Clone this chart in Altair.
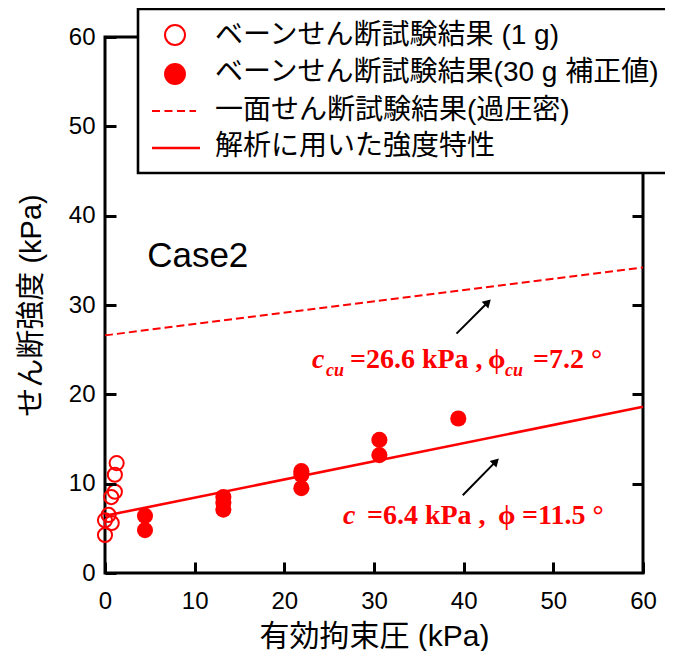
import altair as alt
import pandas as pd

# ---------------- data ----------------
open_x = [1.3, 1.1, 1.1, 0.7, 0.4, 0.0, 0.75, 0.0]
open_y = [12.3, 11.0, 9.1, 8.5, 6.5, 5.9, 5.6, 4.25]

filled_x = [4.46, 4.46, 13.2, 13.2, 13.2, 21.9, 21.9, 21.9, 30.6, 30.6, 39.4]
filled_y = [6.4, 4.8, 8.5, 7.9, 7.1, 11.4, 11.0, 9.5, 14.9, 13.2, 17.3]

dashed_x = [0, 60]
dashed_y = [26.6, 34.2]
solid_x = [0, 60]
solid_y = [6.4, 18.6]

arrow1_x = [39.2, 42.7]
arrow1_y = [26.8, 30.3]
arrow2_x = [39.9, 43.6]
arrow2_y = [8.7, 12.5]

ann1_anchor = ([23.08], [22.95])
ann2_anchor = ([26.54], [5.49])
case_anchor = ([4.7], [34.3])

tick_vals = [0, 10, 20, 30, 40, 50, 60]
right_tick_vals = [10, 20, 30, 40]   # the upper ones sit behind the legend box

legend_labels = [
    "ベーンせん断試験結果 (1 g)",
    "ベーンせん断試験結果(30 g 補正値)",
    "一面せん断試験結果(過圧密)",
    "解析に用いた強度特性",
]
x_title = "有効拘束圧 (kPa)"
y_title = "せん断強度 (kPa)"
case_label = "Case2"

# ---------------- chart ----------------
W, H = 538, 536
RED = "#ff0000"
SANS = "Liberation Sans, Arial, Noto Sans CJK JP"
SERIF = "Liberation Serif, DejaVu Serif"

xs = alt.Scale(domain=[0, 60], nice=False, zero=False)
ys = alt.Scale(domain=[0, 60], nice=False, zero=False)

# inward ticks: each axis is moved inside the frame, ticks point out to it
TL = 11
tick_kw = dict(ticks=True, tickSize=TL, tickWidth=3, tickColor="black",
               domain=False, grid=False, offset=-TL, zindex=1)

xaxis = alt.Axis(values=tick_vals, orient="bottom",
                 labelFlush=False, labelOverlap=False,
                 labelFontSize=24, labelFont=SANS, labelColor="black",
                 labelPadding=16, title=x_title, titleFontSize=30,
                 titleFont=SANS, titleFontWeight="normal", titleColor="black",
                 titlePadding=8, **tick_kw)
yaxis_left = alt.Axis(values=tick_vals, orient="left",
                      labelFlush=False, labelOverlap=False,
                      labelFontSize=24, labelFont=SANS, labelColor="black",
                      labelPadding=10, title=y_title, titleFontSize=29,
                      titleFont=SANS, titleFontWeight="normal",
                      titleColor="black", titlePadding=22, **tick_kw)
yaxis_right = alt.Axis(values=right_tick_vals, orient="right", labels=False,
                       title=None, **tick_kw)


def X(f="x"):
    return alt.X(f"{f}:Q", scale=xs, axis=xaxis)


def Y(f="y", axis=None):
    return alt.Y(f"{f}:Q", scale=ys, axis=axis)


def df(x, y):
    return pd.DataFrame({"x": x, "y": y})


one = pd.DataFrame({"a": [0]})

layers = []

# lines (these two layers carry the left and right y axes)
layers.append(alt.Chart(df(dashed_x, dashed_y)).mark_line(
    color=RED, strokeWidth=2, strokeDash=[8, 4]).encode(
    x=X(), y=Y(axis=yaxis_left)))
layers.append(alt.Chart(df(solid_x, solid_y)).mark_line(
    color=RED, strokeWidth=2.6).encode(x=X(), y=Y(axis=yaxis_right)))

# points
layers.append(alt.Chart(df(open_x, open_y)).mark_point(
    shape="circle", filled=False, stroke=RED, strokeWidth=2, size=200,
    opacity=1).encode(x=X(), y=Y()))
layers.append(alt.Chart(df(filled_x, filled_y)).mark_point(
    shape="circle", filled=True, fill=RED, size=260, opacity=1,
    strokeWidth=0).encode(x=X(), y=Y()))

# Case2 label
layers.append(alt.Chart(df(*case_anchor)).mark_text(
    text=case_label, font=SANS, fontSize=35, align="left",
    baseline="alphabetic", color="black").encode(x=X(), y=Y()))


# annotations (rich text built from pieces)
def piece(anchor, text, dx, dy=0, size=28, italic=False):
    kw = dict(text=text, font=SERIF, fontSize=size, fontWeight="bold",
              align="left", baseline="alphabetic", color=RED, dx=dx, dy=dy)
    if italic:
        kw["fontStyle"] = "italic"
    return alt.Chart(df(*anchor)).mark_text(**kw).encode(x=X(), y=Y())


layers += [
    piece(ann1_anchor, "c", 0, italic=True),
    piece(ann1_anchor, "cu", 14, 8, 18, True),
    piece(ann1_anchor, "=26.6 kPa ,", 38),
    piece(ann1_anchor, "ϕ", 176),
    piece(ann1_anchor, "cu", 193, 8, 18, True),
    piece(ann1_anchor, "=7.2 °", 221),
    piece(ann2_anchor, "c", 0, italic=True),
    piece(ann2_anchor, "=6.4 kPa ,", 24),
    piece(ann2_anchor, "ϕ", 155),
    piece(ann2_anchor, "=11.5 °", 179),
]

# arrows
for ax_, ay_ in [(arrow1_x, arrow1_y), (arrow2_x, arrow2_y)]:
    layers.append(alt.Chart(df(ax_, ay_)).mark_line(
        color="black", strokeWidth=2).encode(x=X(), y=Y()))
    layers.append(alt.Chart(df(ax_[1:], ay_[1:])).mark_point(
        shape="triangle-up", filled=True, fill="black", size=90, angle=45,
        opacity=1, strokeWidth=0).encode(x=X(), y=Y()))

# legend box
layers.append(alt.Chart(one).mark_rect(
    fill="white", stroke="black", strokeWidth=2.6).encode(
    x=alt.value(33), x2=alt.value(640), y=alt.value(-28), y2=alt.value(136)))
layers.append(alt.Chart(one).mark_point(
    shape="circle", filled=False, stroke=RED, strokeWidth=2, size=400,
    opacity=1).encode(x=alt.value(70), y=alt.value(-2)))
layers.append(alt.Chart(one).mark_point(
    shape="circle", filled=True, fill=RED, size=480, opacity=1,
    strokeWidth=0).encode(x=alt.value(70), y=alt.value(37)))
layers.append(alt.Chart(one).mark_rule(
    color=RED, strokeWidth=2, strokeDash=[8, 4.5]).encode(
    x=alt.value(47), x2=alt.value(91), y=alt.value(74)))
layers.append(alt.Chart(one).mark_rule(
    color=RED, strokeWidth=2.6).encode(
    x=alt.value(47), x2=alt.value(95), y=alt.value(111)))
for lab, yy in zip(legend_labels, [-1, 36, 74, 110]):
    layers.append(alt.Chart(one).mark_text(
        text=lab, font=SANS, fontSize=28, align="left", baseline="middle",
        color="black").encode(x=alt.value(110), y=alt.value(yy)))

chart = alt.layer(*layers).resolve_axis(y="independent").properties(
    width=W, height=H,
    autosize=alt.AutoSizeParams(type="none"),
    padding={"left": 97, "top": 29, "right": 22, "bottom": 78},
    background="white",
).configure_view(stroke="black", strokeWidth=3)

chart.save("out.html", embed_options={"renderer": "svg", "actions": False})
